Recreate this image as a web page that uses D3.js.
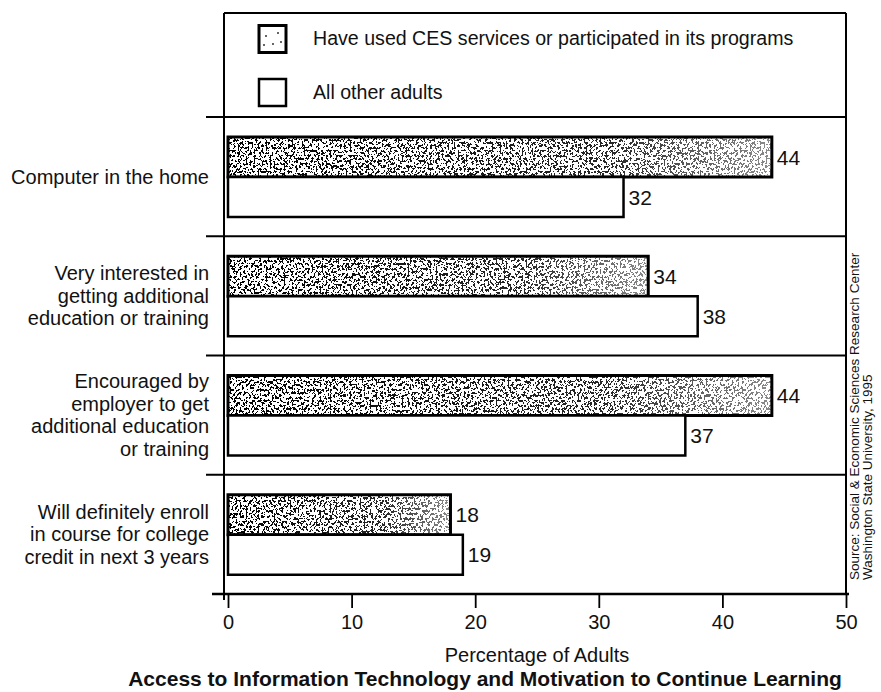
<!DOCTYPE html>
<html>
<head>
<meta charset="utf-8">
<script src="https://cdn.jsdelivr.net/npm/d3@7"></script>
<style>
  html, body { margin: 0; padding: 0; background: #fff; }
  svg { display: block; }
  text { font-family: "Liberation Sans", Arial, Helvetica, sans-serif; fill: #111; }
</style>
</head>
<body>
<svg id="chart" width="881" height="692"></svg>
<script>
// Survey results: share of adults, by CES participation
const categories = [
  ["Computer in the home"],
  ["Very interested in", "getting additional", "education or training"],
  ["Encouraged by", "employer to get", "additional education", "or training"],
  ["Will definitely enroll", "in course for college", "credit in next 3 years"]
];
const cesValues = [44, 34, 44, 18];
const otherValues = [32, 38, 37, 19];
const seriesNames = [
  "Have used CES services or participated in its programs",
  "All other adults"
];
const xTicks = [0, 10, 20, 30, 40, 50];
const xLabel = "Percentage of Adults";
const title = "Access to Information Technology and Motivation to Continue Learning";
const sourceLines = [
  "Source: Social & Economic Sciences Research Center",
  "Washington State University, 1995"
];

const svg = d3.select("#chart");

const frameLeft = 224, frameRight = 846, frameTop = 13;
const legendBottom = 117, axisY = 594;

const x = d3.scaleLinear().domain([0, 50]).range([228, 846]);
const y = d3.scaleBand().domain(d3.range(categories.length)).range([legendBottom, axisY]);
const inner = d3.scaleBand().domain(["ces", "other"]).range([20, 100]);

// speckled texture for the CES bars
const defs = svg.append("defs");
const f = defs.append("filter").attr("id", "speck")
  .attr("x", 0).attr("y", 0).attr("width", 1).attr("height", 1)
  .attr("filterUnits", "objectBoundingBox");
f.append("feTurbulence").attr("type", "fractalNoise")
  .attr("baseFrequency", "0.5 0.38").attr("numOctaves", 3).attr("seed", 11).attr("result", "n");
f.append("feColorMatrix").attr("in", "n").attr("type", "matrix")
  .attr("values", "0 0 0 0 0  0 0 0 0 0  0 0 0 0 0  1.8 0 0 0 -0.38").attr("result", "a");
const ct = f.append("feComponentTransfer").attr("in", "a").attr("result", "d");
ct.append("feFuncA").attr("type", "discrete").attr("tableValues", "0 0 0 1 1");
f.append("feComposite").attr("in", "d").attr("in2", "SourceGraphic").attr("operator", "in");

const grad = defs.append("linearGradient").attr("id", "fade");
grad.append("stop").attr("offset", "0").attr("stop-color", "#fff").attr("stop-opacity", 1);
grad.append("stop").attr("offset", "0.7").attr("stop-color", "#fff").attr("stop-opacity", 0.85);
grad.append("stop").attr("offset", "1").attr("stop-color", "#fff").attr("stop-opacity", 0.45);
defs.append("mask").attr("id", "fadeMask").attr("maskContentUnits", "objectBoundingBox")
  .append("rect").attr("width", 1).attr("height", 1).attr("fill", "url(#fade)");

function stippled(g, x0, y0, w, h) {
  g.append("rect").attr("x", x0).attr("y", y0).attr("width", w).attr("height", h).attr("fill", "#fff");
  g.append("rect").attr("x", x0).attr("y", y0).attr("width", w).attr("height", h)
    .attr("fill", "#000").attr("filter", "url(#speck)").attr("mask", "url(#fadeMask)");
  g.append("rect").attr("x", x0).attr("y", y0).attr("width", w).attr("height", h)
    .attr("fill", "none").attr("stroke", "#000").attr("stroke-width", 3);
}

// frame
const frame = svg.append("g").attr("stroke", "#000").attr("fill", "none");
frame.append("line").attr("x1", frameLeft).attr("x2", frameLeft).attr("y1", frameTop).attr("y2", axisY + 6).attr("stroke-width", 2);
frame.append("line").attr("x1", frameRight).attr("x2", frameRight).attr("y1", frameTop).attr("y2", axisY).attr("stroke-width", 2);
frame.append("line").attr("x1", frameLeft).attr("x2", frameRight).attr("y1", frameTop).attr("y2", frameTop).attr("stroke-width", 2);
// group separators
frame.selectAll(".sep").data(d3.range(categories.length)).join("line")
  .attr("x1", 206).attr("x2", frameRight)
  .attr("y1", d => y(d)).attr("y2", d => y(d))
  .attr("stroke-width", 2);

// legend
const legend = svg.append("g");
const legendRows = [{ y: 38.5, type: "ces" }, { y: 92, type: "other" }];
legendRows.forEach((r, i) => {
  const g = legend.append("g");
  if (r.type === "ces") {
    g.append("rect").attr("x", 259).attr("y", r.y - 13).attr("width", 27).attr("height", 27)
      .attr("fill", "#fff").attr("stroke", "#000").attr("stroke-width", 3);
    [[266, 36], [278, 33], [264, 45], [273, 44], [281, 42]].forEach(p =>
      g.append("circle").attr("cx", p[0]).attr("cy", p[1] + (r.y - 38.5)).attr("r", 1).attr("fill", "#333"));
  } else {
    g.append("rect").attr("x", 259).attr("y", r.y - 13).attr("width", 27).attr("height", 27)
      .attr("fill", "#fff").attr("stroke", "#000").attr("stroke-width", 2.5);
  }
  g.append("text").attr("x", 313).attr("y", r.y).attr("dy", "0.35em")
    .style("font-size", "19.6px").text(seriesNames[i]);
});

// bars
const bars = svg.append("g");
categories.forEach((c, i) => {
  const top = y(i);
  const cy = top + inner("ces"), oy = top + inner("other");
  const h = inner.bandwidth();
  stippled(bars.append("g"), x(0), cy, x(cesValues[i]) - x(0), h);
  bars.append("rect").attr("x", x(0)).attr("y", oy).attr("width", x(otherValues[i]) - x(0)).attr("height", h)
    .attr("fill", "#fff").attr("stroke", "#000").attr("stroke-width", 2.5);
  bars.append("text").attr("x", x(cesValues[i]) + 5).attr("y", cy + h / 2).attr("dy", "0.36em")
    .style("font-size", "21px").text(cesValues[i]);
  bars.append("text").attr("x", x(otherValues[i]) + 5).attr("y", oy + h / 2).attr("dy", "0.36em")
    .style("font-size", "21px").text(otherValues[i]);
});

// category labels
const lineH = 22.5;
categories.forEach((lines, i) => {
  const cyc = y(i) + y.bandwidth() / 2;
  const t = svg.append("text").attr("text-anchor", "end").style("font-size", "20px");
  lines.forEach((ln, j) => {
    t.append("tspan").attr("x", 209)
      .attr("y", cyc + (j - (lines.length - 1) / 2) * lineH).attr("dy", "0.35em").text(ln);
  });
});

// x axis
const axis = d3.axisBottom(x).tickValues(xTicks).tickSize(14).tickPadding(7).tickFormat(d3.format("d"));
const ax = svg.append("g").attr("transform", `translate(0,${axisY})`).call(axis);
ax.select(".domain").remove();
ax.append("line").attr("x1", 212).attr("x2", 849).attr("y1", 0).attr("y2", 0)
  .attr("stroke", "#000").attr("stroke-width", 2.5);
ax.selectAll(".tick line").attr("stroke", "#000").attr("stroke-width", 1.8);
ax.selectAll(".tick text").style("font-size", "20px").attr("fill", "#111")
  .style("font-family", "'Liberation Sans', Arial, sans-serif");

svg.append("text").attr("x", x(25)).attr("y", 655).attr("dy", "0.35em")
  .attr("text-anchor", "middle").style("font-size", "20px").text(xLabel);
svg.append("text").attr("x", 485).attr("y", 679).attr("dy", "0.35em")
  .attr("text-anchor", "middle").style("font-size", "21px").style("font-weight", "bold").text(title);

// source note, rotated along the right edge
sourceLines.forEach((s, i) => {
  svg.append("text").attr("transform", `translate(${859 + i * 13},580) rotate(-90)`)
    .style("font-size", "13.5px").text(s);
});
</script>
</body>
</html>
